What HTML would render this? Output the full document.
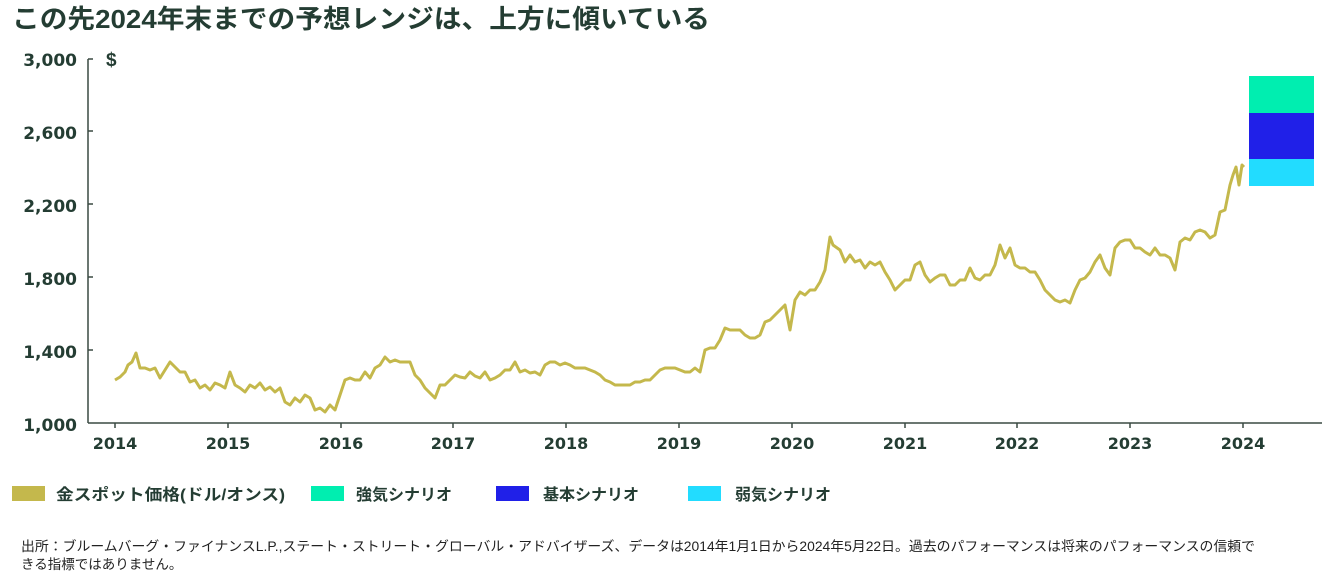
<!DOCTYPE html>
<html><head><meta charset="utf-8"><style>
html,body{margin:0;padding:0;background:#fff;width:1339px;height:580px;overflow:hidden}
text{font-family:"Liberation Sans","Noto Sans CJK JP",sans-serif}
text.dv{font-family:"DejaVu Sans","Liberation Sans",sans-serif}
</style></head><body>
<svg width="1339" height="580" xmlns="http://www.w3.org/2000/svg">
<text x="12" y="28" font-size="26" font-weight="bold" fill="#243d33" textLength="698" lengthAdjust="spacingAndGlyphs">この先2024年末までの予想レンジは、上方に傾いている</text>
<g font-size="17" font-weight="bold" fill="#243d33" text-anchor="end">
<text class="dv" x="77" y="66">3,000</text><text class="dv" x="77" y="139">2,600</text><text class="dv" x="77" y="212">2,200</text><text class="dv" x="77" y="285">1,800</text><text class="dv" x="77" y="358">1,400</text><text class="dv" x="77" y="431">1,000</text>
</g>
<text x="106" y="66" font-size="19" font-weight="bold" fill="#243d33">$</text>
<g stroke="#3a4a42" stroke-width="1.5" fill="none">
<line x1="88" y1="59" x2="88" y2="423"/>
<line x1="88" y1="423" x2="1322" y2="423"/>
<path d="M88 59h5M88 131h5M88 204h5M88 277h5M88 350h5"/>
<path d="M115 423v5M228 423v5M341 423v5M453 423v5M566 423v5M679 423v5M792 423v5M905 423v5M1017 423v5M1130 423v5M1243 423v5"/>
</g>
<g font-size="16" font-weight="bold" fill="#243d33" text-anchor="middle">
<text class="dv" x="115" y="449">2014</text><text class="dv" x="228" y="449">2015</text><text class="dv" x="341" y="449">2016</text><text class="dv" x="453" y="449">2017</text><text class="dv" x="566" y="449">2018</text><text class="dv" x="679" y="449">2019</text><text class="dv" x="792" y="449">2020</text><text class="dv" x="905" y="449">2021</text><text class="dv" x="1017" y="449">2022</text><text class="dv" x="1130" y="449">2023</text><text class="dv" x="1243" y="449">2024</text>
</g>
<rect x="1249" y="76" width="65" height="37" fill="#00eeb0"/>
<rect x="1249" y="113" width="65" height="46" fill="#2020e8"/>
<rect x="1249" y="159" width="65" height="27" fill="#22dcff"/>
<polyline fill="none" stroke="#c4b84c" stroke-width="3" stroke-linejoin="round" points="115,380 120,377 125,372 128,365 132,362 136,353 140,368 145,368 150,370 155,368 160,378 165,370 170,362 175,367 180,372 185,372 190,382 195,380 200,388 205,385 210,390 215,383 220,385 225,388 230,372 235,385 240,388 245,392 250,385 255,388 260,383 265,390 270,387 275,392 280,388 285,402 290,405 295,398 300,402 305,395 310,398 315,410 320,408 325,412 330,405 335,410 340,395 345,380 350,378 355,380 360,380 365,372 370,378 375,368 380,365 385,357 390,362 395,360 400,362 405,362 410,362 415,375 420,380 425,388 430,393 435,398 440,385 445,385 450,380 455,375 460,377 465,378 470,372 475,376 480,378 485,372 490,380 495,378 500,375 505,370 510,370 515,362 520,372 525,370 530,373 535,372 540,375 545,365 550,362 555,362 560,365 565,363 570,365 575,368 580,368 585,368 590,370 595,372 600,375 605,380 610,382 615,385 620,385 625,385 630,385 635,382 640,382 645,380 650,380 655,375 660,370 665,368 670,368 675,368 680,370 685,372 690,372 695,368 700,372 705,350 710,348 715,348 720,340 725,328 730,330 735,330 740,330 745,335 750,338 755,338 760,335 765,322 770,320 775,315 780,310 785,305 790,330 795,300 800,292 805,295 810,290 815,290 820,282 825,270 830,237 833,245 840,250 845,262 850,255 855,262 860,260 865,268 870,262 875,265 880,262 885,272 890,280 895,290 900,285 905,280 910,280 915,265 920,262 925,275 930,282 935,278 940,275 945,275 950,285 955,285 960,280 965,280 970,268 975,278 980,280 985,275 990,275 995,265 1000,245 1005,258 1010,248 1015,265 1020,268 1025,268 1030,272 1035,272 1040,280 1045,290 1050,295 1055,300 1060,302 1065,300 1070,303 1075,290 1080,280 1085,278 1090,272 1095,262 1100,255 1105,268 1110,275 1115,248 1120,242 1125,240 1130,240 1135,248 1140,248 1145,252 1150,255 1155,248 1160,255 1165,255 1170,258 1175,270 1180,242 1185,238 1190,240 1195,232 1200,230 1205,232 1210,238 1215,235 1220,212 1225,210 1230,185 1233,175 1236,167 1239,185 1242,165 1244,167"/>
<g font-size="16" font-weight="bold" fill="#243d33">
<rect x="12" y="486" width="33" height="15" fill="#c4b84c"/><text x="56" y="500" textLength="229" lengthAdjust="spacingAndGlyphs">金スポット価格(ドル/オンス)</text>
<rect x="311" y="486" width="33" height="15" fill="#00eeb0"/><text x="356" y="500">強気シナリオ</text>
<rect x="496" y="486" width="33" height="15" fill="#2020e8"/><text x="543" y="500">基本シナリオ</text>
<rect x="688" y="486" width="33" height="15" fill="#22dcff"/><text x="735" y="500">弱気シナリオ</text>
</g>
<g font-size="13.5" fill="#222">
<text x="21" y="551" textLength="1234" lengthAdjust="spacingAndGlyphs">出所：ブルームバーグ・ファイナンスL.P.,ステート・ストリート・グローバル・アドバイザーズ、データは2014年1月1日から2024年5月22日。過去のパフォーマンスは将来のパフォーマンスの信頼で</text>
<text x="21" y="569">きる指標ではありません。</text>
</g>
</svg>
</body></html>
